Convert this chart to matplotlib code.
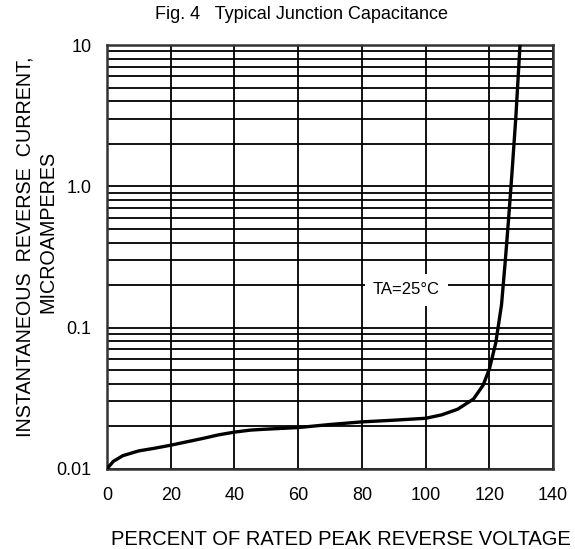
import matplotlib
matplotlib.use("Agg")
import matplotlib.pyplot as plt
from matplotlib.ticker import FixedLocator, LogLocator, NullFormatter

plt.rcParams['font.family'] = ['Liberation Sans', 'DejaVu Sans']

# percent of rated peak reverse voltage vs reverse current (uA)
pct_voltage = [0, 2, 5, 10, 15, 20, 30, 35, 40, 45, 50, 60, 70, 80, 90, 100, 105,
               110, 115, 118, 120, 122, 123.8, 125, 126, 127, 128.3, 129.6]
current_ua = [0.0100, 0.0113, 0.0124, 0.0134, 0.0140, 0.0147, 0.0164, 0.0174,
              0.0182, 0.0188, 0.0191, 0.0196, 0.0206, 0.0215, 0.0221, 0.0228,
              0.0241, 0.0264, 0.0312, 0.039, 0.051, 0.078, 0.145, 0.30, 0.58,
              1.17, 3.1, 10.0]

x_ticks = [0, 20, 40, 60, 80, 100, 120, 140]
y_ticks = [0.01, 0.1, 1.0, 10]
y_tick_labels = ['0.01', '0.1', '1.0', '10']

fig = plt.figure(figsize=(5.75, 5.49), dpi=100)
ax = fig.add_axes([0.186, 0.146, 0.776, 0.772])

ax.set_yscale('log')
ax.set_xlim(0, 140)
ax.set_ylim(0.01, 10)

ax.xaxis.set_major_locator(FixedLocator(x_ticks))
ax.set_xticklabels([str(t) for t in x_ticks])
ax.yaxis.set_major_locator(FixedLocator(y_ticks))
ax.set_yticklabels(y_tick_labels)
ax.yaxis.set_minor_locator(LogLocator(base=10, subs=range(2, 10)))
ax.yaxis.set_minor_formatter(NullFormatter())

ax.grid(True, which='both', axis='y', color='black', lw=1.3)
ax.grid(True, which='major', axis='x', color='black', lw=1.3)
ax.tick_params(which='both', length=0, labelsize=13)
ax.tick_params(axis='x', pad=13)
ax.tick_params(axis='y', pad=11)
for s in ax.spines.values():
    s.set_linewidth(1.8)
    s.set_color('#333333')

ax.plot(pct_voltage, current_ua, color='black', lw=2.4, zorder=3)

ax.text(94, 0.185, 'TA=25°C', fontsize=12, ha='center', va='center',
        bbox=dict(facecolor='white', edgecolor='none', pad=6), zorder=4)

fig.text(0.524, 0.973, 'Fig. 4   Typical Junction Capacitance',
         ha='center', va='center', fontsize=13)
fig.text(0.593, 0.0164, 'PERCENT OF RATED PEAK REVERSE VOLTAGE',
         ha='center', va='center', fontsize=14.5)
fig.text(0.0435, 0.55, 'INSTANTANEOUS  REVERSE  CURRENT,', rotation=90,
         ha='center', va='center', fontsize=14.2)
fig.text(0.0835, 0.577, 'MICROAMPERES', rotation=90,
         ha='center', va='center', fontsize=14.2)

fig.savefig('out.png', dpi=100)
